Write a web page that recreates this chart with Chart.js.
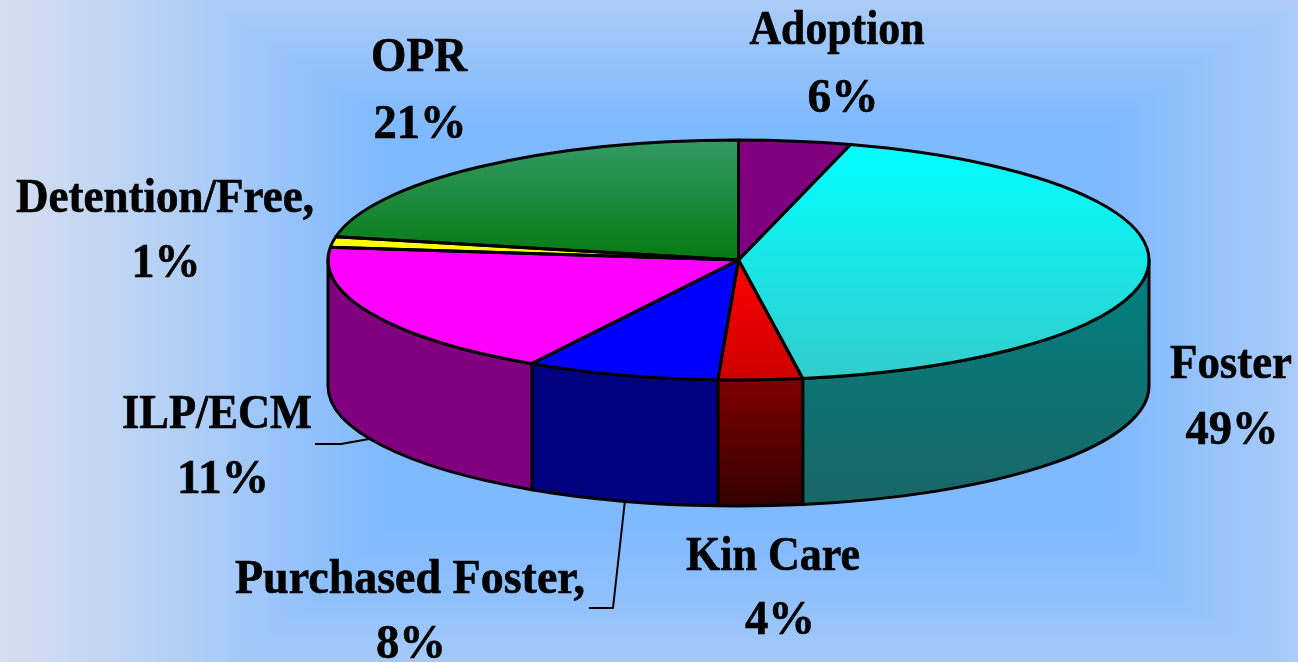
<!DOCTYPE html>
<html>
<head>
<meta charset="utf-8">
<title>Placement shares</title>
<script src="https://cdn.jsdelivr.net/npm/chart.js@4"></script>
<style>html,body{margin:0;padding:0;background:#7fb9ff;overflow:hidden}canvas{display:block}</style>
</head>
<body>
<canvas id="c" width="1298" height="662"></canvas>
<script>
// Data
const categories = ["Adoption", "Foster", "Kin Care", "Purchased Foster,", "ILP/ECM", "Detention/Free,", "OPR"];
// Percentages as printed on the labels
const printedPercents = ["6%", "49%", "4%", "8%", "11%", "1%", "21%"];
// Share of the circle each slice actually occupies in the drawn pie (measured from its angles)
const sliceShares = [4.4, 43.1, 3.3, 7.6, 18.3, 1.4, 21.9];

// Styling, separate from the data
const topColors = [
  ["#800080", "#800080"], ["#00ffff", "#33cccc"], ["#ff0000", "#cc0000"], ["#0000ff", "#0000ff"],
  ["#ff00ff", "#ff00ff"], ["#ffff00", "#ffff00"], ["#339966", "#067a12"]
];
const wallColors = [
  ["#800080", "#800080"], ["#008080", "#1a6666"], ["#800000", "#330000"], ["#000080", "#000080"],
  ["#800080", "#800080"], ["#ffff00", "#ffff00"], ["#008000", "#008000"]
];
const SQUASH = 120 / 410.5, DEPTH = 126, RADIUS = 410.5;
const labelSpots = [
  {name:[837,44,175], pct:[843,112,71]}, {name:[1231,378,122], pct:[1232,444,93]}, {name:[773,570,174], pct:[780,634,70]},
  {name:[410,593,350], pct:[411,658,70]}, {name:[217,428,190], pct:[223,493,92]}, {name:[165,212,298], pct:[166,277,69]},
  {name:[419,71,96], pct:[420,138,93]}
];
const leaders = [
  [[315,444],[341,444],[369,439]],
  [[589,608],[613,608],[625,500]]
];
const FONT = 'bold 48px "Liberation Serif", "Times New Roman", serif';

function vGrad(ctx, y0, y1, pair) {
  const g = ctx.createLinearGradient(0, y0, 0, y1);
  g.addColorStop(0, pair[0]); g.addColorStop(1, pair[1]);
  return g;
}

// vertical span of a slice's rim sweep on the unit circle
function sweepSpan(a0, a1) {
  let lo = Math.min(Math.sin(a0), Math.sin(a1)), hi = Math.max(Math.sin(a0), Math.sin(a1));
  for (const k of [-Math.PI / 2, Math.PI / 2, 3 * Math.PI / 2]) {
    if (a0 <= k && k <= a1) { lo = Math.min(lo, Math.sin(k)); hi = Math.max(hi, Math.sin(k)); }
  }
  return [lo, hi];
}

// piecewise ramps for the picture's rectangular "from centre" background
function ramp(v, pts) {
  if (v <= pts[0][0]) return pts[0][1];
  for (let i = 1; i < pts.length; i++) {
    if (v <= pts[i][0]) {
      const f = (v - pts[i-1][0]) / (pts[i][0] - pts[i-1][0]);
      return pts[i-1][1] + f * (pts[i][1] - pts[i-1][1]);
    }
  }
  return pts[pts.length-1][1];
}
const bgX = [[0,1],[130,.72],[200,.54],[330,.15],[390,0],[1110,0],[1200,.25],[1298,.5]];
const bgY = [[0,.52],[60,.25],[125,0],[525,0],[600,.2],[662,.45]];
let bgCanvas = null;
function background(w, h) {
  if (bgCanvas) return bgCanvas;
  bgCanvas = document.createElement('canvas');
  bgCanvas.width = w; bgCanvas.height = h;
  const c = bgCanvas.getContext('2d'), img = c.createImageData(w, h), d = img.data;
  const tx = [], ty = [];
  for (let x = 0; x < w; x++) tx.push(ramp(x, bgX));
  for (let y = 0; y < h; y++) ty.push(ramp(y, bgY));
  let p = 0;
  for (let y = 0; y < h; y++) for (let x = 0; x < w; x++) {
    const t = Math.max(tx[x], ty[y]);
    d[p++] = 127 + t * 87; d[p++] = 185 + t * 37; d[p++] = 255 - t * 16; d[p++] = 255;
  }
  c.putImageData(img, 0, 0);
  return bgCanvas;
}

const pie3d = {
  id: 'pie3d',
  beforeDraw(chart) {
    chart.ctx.drawImage(background(chart.width, chart.height), 0, 0);
  },
  beforeDatasetsDraw(chart) {
    const {ctx} = chart;
    const arcs = chart.getDatasetMeta(0).data;
    const {x: cx, y: cy, outerRadius: rx} = arcs[0];
    const ry = rx * SQUASH;
    ctx.save();
    ctx.lineWidth = 3;
    ctx.lineJoin = 'round';
    ctx.strokeStyle = '#000';
    arcs.forEach((arc, i) => {
      // only the part of the rim facing the viewer has a visible wall
      const a0 = Math.max(arc.startAngle, 0), a1 = Math.min(arc.endAngle, Math.PI);
      if (a1 <= a0) return;
      const span = sweepSpan(a0, a1);
      ctx.beginPath();
      ctx.ellipse(cx, cy, rx, ry, 0, a0, a1);
      ctx.ellipse(cx, cy + DEPTH, rx, ry, 0, a1, a0, true);
      ctx.closePath();
      ctx.fillStyle = vGrad(ctx, cy + ry * span[0], cy + ry * span[1] + DEPTH, wallColors[i]);
      ctx.fill();
      ctx.stroke();
    });
    ctx.restore();
    // squash the library's own arcs into the ellipse of the top face
    ctx.save();
    ctx.translate(cx, cy);
    ctx.scale(1, SQUASH);
    ctx.translate(-cx, -cy);
  },
  afterDatasetsDraw(chart) {
    const {ctx} = chart;
    ctx.restore();
    const arcs = chart.getDatasetMeta(0).data;
    const {x: cx, y: cy, outerRadius: rx} = arcs[0];
    const ry = rx * SQUASH;
    ctx.save();
    ctx.lineWidth = 3;
    ctx.lineJoin = 'round';
    ctx.strokeStyle = '#000';
    arcs.forEach(arc => {
      ctx.beginPath();
      ctx.moveTo(cx, cy);
      ctx.ellipse(cx, cy, rx, ry, 0, arc.startAngle, arc.endAngle);
      ctx.closePath();
      ctx.stroke();
    });
    ctx.restore();
  },
  afterDraw(chart) {
    const {ctx} = chart;
    ctx.save();
    ctx.strokeStyle = '#000';
    ctx.lineWidth = 2;
    leaders.forEach(path => {
      ctx.beginPath();
      path.forEach((p, k) => k ? ctx.lineTo(p[0], p[1]) : ctx.moveTo(p[0], p[1]));
      ctx.stroke();
    });
    ctx.fillStyle = '#000';
    ctx.lineWidth = 0.6;
    ctx.font = FONT;
    ctx.textAlign = 'center';
    ctx.textBaseline = 'alphabetic';
    categories.forEach((name, i) => {
      const s = labelSpots[i];
      ctx.fillText(name, s.name[0], s.name[1], s.name[2]);
      ctx.strokeText(name, s.name[0], s.name[1], s.name[2]);
      ctx.fillText(printedPercents[i], s.pct[0], s.pct[1], s.pct[2]);
      ctx.strokeText(printedPercents[i], s.pct[0], s.pct[1], s.pct[2]);
    });
    ctx.restore();
  }
};

new Chart(document.getElementById('c'), {
  type: 'pie',
  data: {
    labels: categories,
    datasets: [{
      data: sliceShares,
      clip: false,
      borderWidth: 0,
      backgroundColor(context) {
        const i = context.dataIndex, area = context.chart.chartArea;
        if (i === undefined || !area) return '#000';
        const cy = (area.top + area.bottom) / 2;
        const total = sliceShares.reduce((a, b) => a + b, 0);
        const before = sliceShares.slice(0, i).reduce((a, b) => a + b, 0);
        const a0 = -Math.PI / 2 + 2 * Math.PI * before / total;
        const a1 = a0 + 2 * Math.PI * sliceShares[i] / total;
        const span = sweepSpan(a0, a1);
        // gradient coordinates live in the unsquashed space of the pie; slices also touch the centre
        const lo = Math.min(span[0], 0), hi = Math.max(span[1], 0);
        return vGrad(context.chart.ctx, cy + RADIUS * lo, cy + RADIUS * hi, topColors[i]);
      }
    }]
  },
  options: {
    responsive: false,
    animation: false,
    radius: RADIUS,
    layout: {padding: {left: 179, right: 0, top: 0, bottom: 142}},
    plugins: {legend: {display: false}, tooltip: {enabled: false}}
  },
  plugins: [pie3d]
});
</script>
</body>
</html>
